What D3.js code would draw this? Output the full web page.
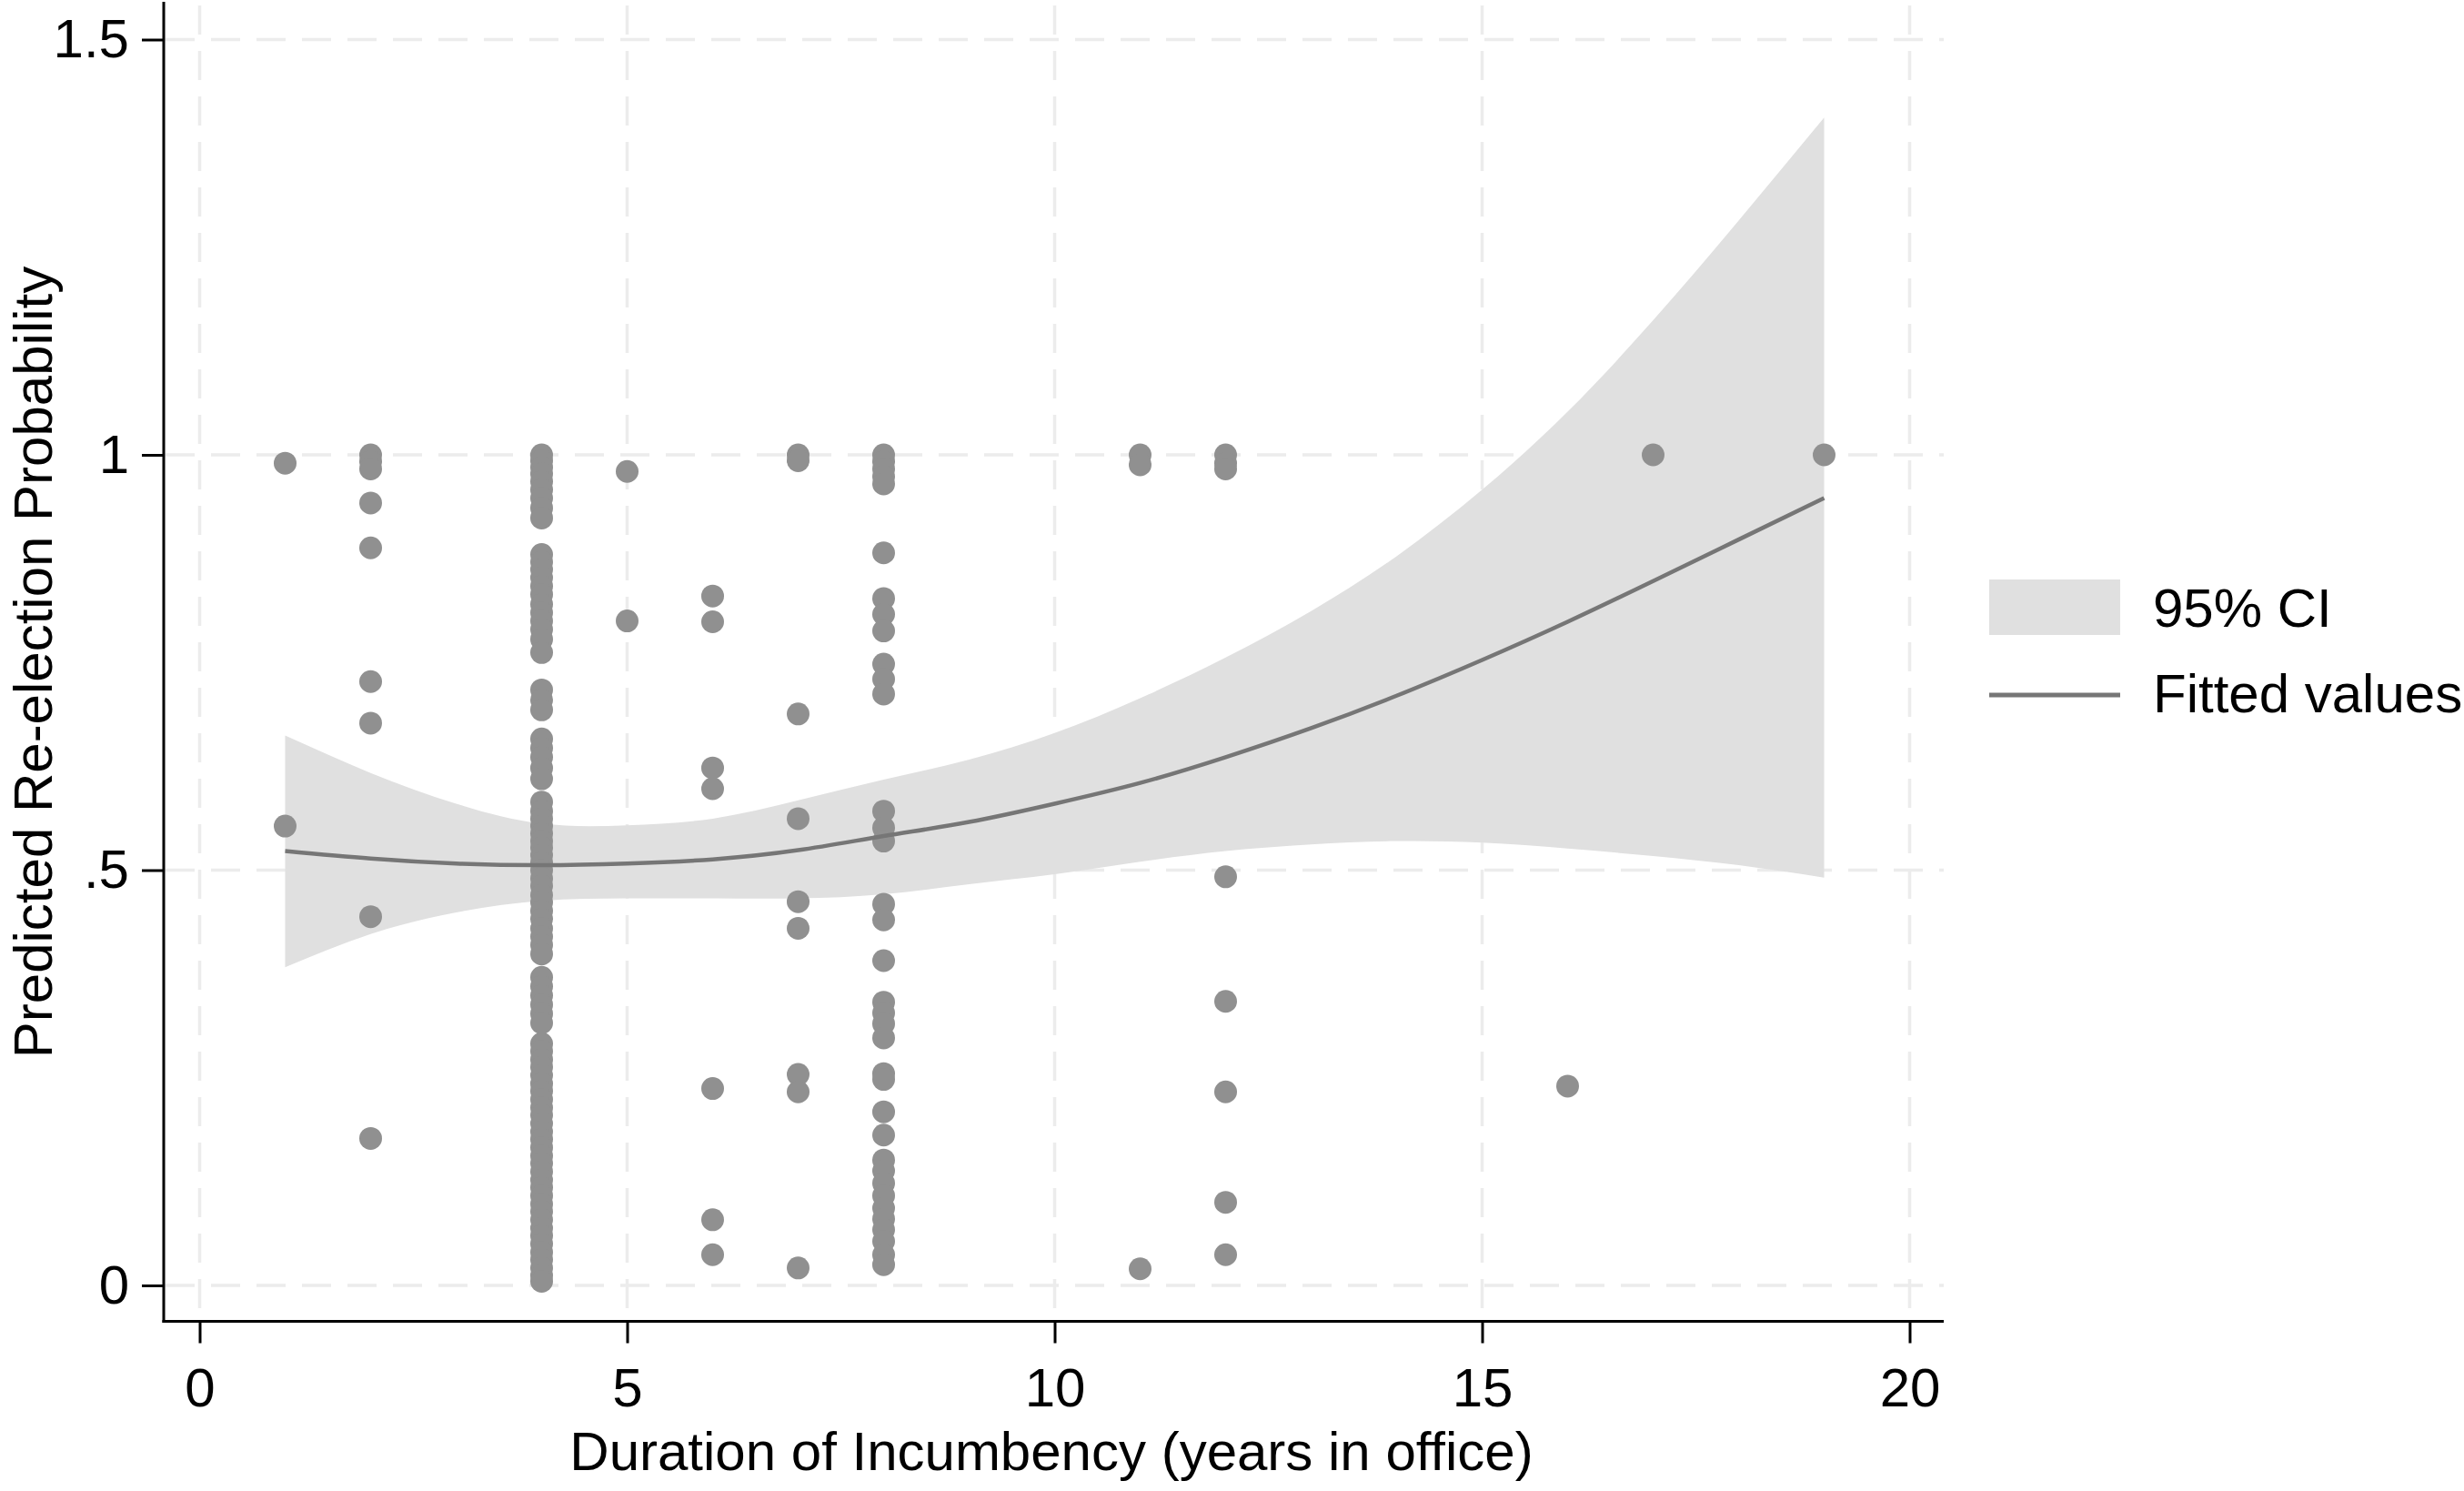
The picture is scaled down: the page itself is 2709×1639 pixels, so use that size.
<!DOCTYPE html>
<html>
<head>
<meta charset="utf-8">
<script src="https://cdn.jsdelivr.net/npm/d3@7"></script>
<style>
  body { margin: 0; background: #fff; }
  svg { display: block; font-family: "Liberation Sans", Arial, sans-serif; }
</style>
</head>
<body>
<div id="chart"></div>
<script>
// observed predicted probabilities, one array per duration
const dur1 = [0.99, 0.553];
const dur2 = [1.0, 0.992, 0.983, 0.942, 0.888, 0.727, 0.677, 0.444, 0.177];
const dur4 = [
  1.0, 0.993, 0.985, 0.977, 0.968, 0.958, 0.948, 0.936, 0.924,
  0.88, 0.871, 0.862, 0.852, 0.842, 0.832, 0.82, 0.81, 0.80, 0.79, 0.778, 0.762,
  0.717, 0.705, 0.693,
  0.658, 0.647, 0.636, 0.623, 0.61,
  0.582, 0.571, 0.562, 0.553, 0.544, 0.535, 0.527, 0.518, 0.509, 0.50, 0.49,
  0.481, 0.47, 0.461, 0.451, 0.441, 0.43, 0.42, 0.41, 0.399,
  0.371, 0.36, 0.349, 0.338, 0.327, 0.316,
  0.291, 0.282, 0.272, 0.263, 0.253, 0.243, 0.234, 0.224, 0.214, 0.205, 0.195,
  0.185, 0.176, 0.166, 0.156, 0.147, 0.137, 0.127, 0.118, 0.108, 0.098, 0.089,
  0.079, 0.069, 0.06, 0.05, 0.04, 0.031, 0.021, 0.012, 0.005
];
const dur5 = [0.98, 0.80];
const dur6 = [0.83, 0.799, 0.623, 0.598, 0.237, 0.079, 0.037];
const dur7 = [1.0, 0.993, 0.688, 0.562, 0.462, 0.43, 0.254, 0.233, 0.021];
const dur8 = [
  1.0, 0.992, 0.983, 0.974, 0.965, 0.882, 0.827, 0.808, 0.788, 0.748, 0.73, 0.712,
  0.571, 0.551, 0.535, 0.459, 0.44, 0.391, 0.341, 0.328, 0.315, 0.298, 0.255, 0.248,
  0.209, 0.181, 0.151, 0.138, 0.123, 0.108, 0.093, 0.08, 0.067, 0.053, 0.037, 0.025
];
const dur11 = [1.0, 0.988, 0.02];
const dur12 = [1.0, 0.99, 0.983, 0.492, 0.342, 0.233, 0.1, 0.037];
const dur16 = [0.24];
const dur17 = [1.0];
const dur19 = [1.0];

const columns = [
  [1, dur1], [2, dur2], [4, dur4], [5, dur5], [6, dur6], [7, dur7],
  [8, dur8], [11, dur11], [12, dur12], [16, dur16], [17, dur17], [19, dur19]
];

// fitted values and 95% CI read at each year
const fitX  = [1, 2, 3, 4, 5, 6, 7, 8, 9, 10, 11, 12, 13, 14, 15, 16, 17, 18, 19];
const fitY  = [0.523, 0.514, 0.508, 0.506, 0.508, 0.513, 0.524, 0.541, 0.558, 0.580,
               0.605, 0.636, 0.671, 0.710, 0.753, 0.799, 0.848, 0.898, 0.948];
const ciLow = [0.383, 0.423, 0.449, 0.463, 0.466, 0.466, 0.466, 0.471, 0.483, 0.495,
               0.510, 0.523, 0.531, 0.535, 0.533, 0.526, 0.517, 0.506, 0.491];
const ciHigh = [0.662, 0.617, 0.580, 0.556, 0.554, 0.562, 0.584, 0.609, 0.633, 0.665,
                0.707, 0.756, 0.812, 0.878, 0.958, 1.052, 1.162, 1.282, 1.406];

const xTicks = [0, 5, 10, 15, 20];
const yTicks = [0, 0.5, 1, 1.5];
const yTickLabels = ["0", ".5", "1", "1.5"];
const legendLabels = ["95% CI", "Fitted values"];

const W = 2709, H = 1639;
const plot = { left: 180, right: 2137, top: 2, bottom: 1452.5 };

const x = d3.scaleLinear().domain([0, 20]).range([219.5, 2099.5]);
const y = d3.scaleLinear().domain([0, 1.5]).range([1413, 43.5]);

const pointCol = "#909090";
const lineCol = "#767676";
const ciCol = "#e0e0e0";
const gridCol = "#ececec";

const svg = d3.select("#chart").append("svg")
    .attr("width", W)
    .attr("height", H);

// grid
const grid = svg.append("g")
    .attr("stroke", gridCol)
    .attr("stroke-width", 3.5)
    .attr("stroke-dasharray", "32,18");

grid.selectAll("line.h")
    .data(yTicks)
    .enter()
    .append("line")
    .attr("class", "h")
    .attr("x1", plot.left + 2)
    .attr("x2", plot.right)
    .attr("y1", d => y(d))
    .attr("y2", d => y(d));

grid.selectAll("line.v")
    .data(xTicks)
    .enter()
    .append("line")
    .attr("class", "v")
    .attr("x1", d => x(d))
    .attr("x2", d => x(d))
    .attr("y1", plot.top + 4)
    .attr("y2", plot.bottom - 2);

// CI band
const fitData = fitX.map((d, i) => ({ x: d, fit: fitY[i], lo: ciLow[i], hi: ciHigh[i] }));

svg.append("path")
    .datum(fitData)
    .attr("fill", ciCol)
    .attr("d", d3.area()
        .curve(d3.curveNatural)
        .x(d => x(d.x))
        .y0(d => y(d.lo))
        .y1(d => y(d.hi)));

// scatter
const pts = columns.flatMap(([dx, vals]) => vals.map(v => ({ x: dx, y: v })));

svg.append("g")
    .selectAll("circle")
    .data(pts)
    .enter()
    .append("circle")
    .attr("cx", d => x(d.x))
    .attr("cy", d => y(d.y))
    .attr("r", 12.5)
    .attr("fill", pointCol);

// fitted line
svg.append("path")
    .datum(fitData)
    .attr("fill", "none")
    .attr("stroke", lineCol)
    .attr("stroke-width", 4.5)
    .attr("d", d3.line()
        .curve(d3.curveNatural)
        .x(d => x(d.x))
        .y(d => y(d.fit)));

// axes
const yAxis = svg.append("g")
    .attr("transform", `translate(${plot.left},0)`)
    .call(d3.axisLeft(y)
        .tickValues(yTicks)
        .tickFormat((d, i) => yTickLabels[i])
        .tickSize(24)
        .tickPadding(14));

const xAxis = svg.append("g")
    .attr("transform", `translate(0,${plot.bottom})`)
    .call(d3.axisBottom(x)
        .tickValues(xTicks)
        .tickSize(24)
        .tickPadding(27));

[yAxis, xAxis].forEach(g => {
    g.select(".domain").remove();
    g.selectAll(".tick line").attr("stroke", "#000").attr("stroke-width", 3);
    g.selectAll(".tick text")
        .attr("fill", "#000")
        .style("font-size", "60px")
        .style("font-family", "'Liberation Sans', Arial, sans-serif");
});

svg.append("line")
    .attr("x1", plot.left).attr("x2", plot.left)
    .attr("y1", plot.top).attr("y2", plot.bottom + 1.5)
    .attr("stroke", "#000").attr("stroke-width", 3);

svg.append("line")
    .attr("x1", plot.left - 1.5).attr("x2", plot.right)
    .attr("y1", plot.bottom).attr("y2", plot.bottom)
    .attr("stroke", "#000").attr("stroke-width", 3);

// axis titles
svg.append("text")
    .attr("text-anchor", "middle")
    .attr("x", 1156)
    .attr("y", 1616)
    .style("font-size", "60px")
    .text("Duration of Incumbency (years in office)");

svg.append("text")
    .attr("text-anchor", "middle")
    .attr("transform", "translate(57,728) rotate(-90)")
    .style("font-size", "60px")
    .text("Predicted Re-election Probability");

// legend
const legend = svg.append("g");

legend.append("rect")
    .attr("x", 2187)
    .attr("y", 637)
    .attr("width", 144)
    .attr("height", 61)
    .attr("fill", ciCol);

legend.append("line")
    .attr("x1", 2187).attr("x2", 2331)
    .attr("y1", 764).attr("y2", 764)
    .attr("stroke", lineCol)
    .attr("stroke-width", 5);

legend.selectAll("text")
    .data(legendLabels)
    .enter()
    .append("text")
    .attr("x", 2367)
    .attr("y", (d, i) => i === 0 ? 689 : 783)
    .style("font-size", "60px")
    .text(d => d);
</script>
</body>
</html>
